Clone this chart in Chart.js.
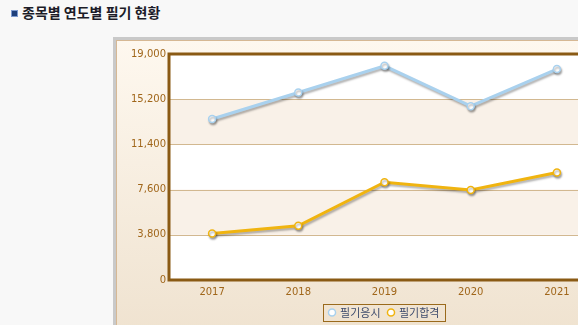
<!DOCTYPE html>
<html>
<head>
<meta charset="utf-8">
<script src="https://cdn.jsdelivr.net/npm/chart.js@4"></script>
<style>
  html, body { margin: 0; padding: 0; width: 578px; height: 325px; overflow: hidden; background: #f8f8f8; }
  .title { position: absolute; left: 22px; top: 2px; font: bold 14px "Noto Sans CJK KR", sans-serif; color: #1c1c28; }
  .icon { position: absolute; left: 11px; top: 10px; width: 5px; height: 5px; background: #1d3f7a; border: 1px solid #7c9ad0; }
  .outer { position: absolute; left: 113px; top: 37px; width: 620px; height: 300px; background: #c9c9c9; }
  .box { position: absolute; left: 116px; top: 40px; width: 616px; height: 300px; border: 1px solid #d6b894;
         background: linear-gradient(#fef8ef, #efe2cf); }
  .wrap { position: absolute; left: 117px; top: 41px; width: 535px; height: 284px; }
</style>
</head>
<body>
<div class="icon"></div>
<div class="title">종목별 연도별 필기 현황</div>
<div class="outer"></div>
<div class="box"></div>
<div class="wrap"><canvas id="chart"></canvas></div>
<script>
const years    = ['2017', '2018', '2019', '2020', '2021'];
const applied  = [13540, 15760, 18010, 14610, 17730];   // 필기응시
const passed   = [3910, 4560, 8220, 7570, 9040];        // 필기합격
const yTicks   = [0, 3800, 7600, 11400, 15200, 19000];

const tickC = '#a0661a', gridC = '#d2b890', bandC = '#f9f1e8', frameC = '#8a5a14';

const bands = {
  id: 'bands',
  afterLayout(chart) {
    // legend centred under the plot, a bit lower
    const lg = chart.legend;
    lg.left += 26; lg.right += 26;
    lg.top += 3; lg.bottom += 3;
  },
  beforeDatasetsDraw(chart) {
    const { ctx, chartArea: a, scales: { y } } = chart;
    ctx.save();
    ctx.fillStyle = '#ffffff';
    ctx.fillRect(a.left, a.top, a.right - a.left, a.bottom - a.top);
    for (let i = 0; i < yTicks.length - 1; i++) {
      const y0 = y.getPixelForValue(yTicks[i]), y1 = y.getPixelForValue(yTicks[i + 1]);
      if (i % 2 === 1) { ctx.fillStyle = bandC; ctx.fillRect(a.left, y1, a.right - a.left, y0 - y1); }
    }
    ctx.strokeStyle = gridC; ctx.lineWidth = 1;
    yTicks.slice(1, -1).forEach(v => {
      const py = Math.round(y.getPixelForValue(v)) + 0.5;
      ctx.beginPath(); ctx.moveTo(a.left, py); ctx.lineTo(a.right, py); ctx.stroke();
    });
    ctx.strokeStyle = frameC; ctx.lineWidth = 3;
    ctx.beginPath();
    ctx.moveTo(a.right + 5, a.top); ctx.lineTo(a.left, a.top); ctx.lineTo(a.left, a.bottom); ctx.lineTo(a.right + 5, a.bottom);
    ctx.stroke();
    ctx.restore();
  },
  beforeDatasetDraw(chart) {
    const ctx = chart.ctx;
    ctx.save();
    ctx.shadowColor = 'rgba(0,0,0,0.3)';
    ctx.shadowBlur = 2; ctx.shadowOffsetX = 1; ctx.shadowOffsetY = 2;
  },
  afterDatasetDraw(chart) { chart.ctx.restore(); },
  afterDraw(chart) {
    const boxes = chart.legend.legendHitBoxes;
    if (!boxes || !boxes.length) return;
    const ctx = chart.ctx;
    let l = Infinity, r = -Infinity, t = Infinity, b = -Infinity;
    boxes.forEach(h => { l = Math.min(l, h.left); r = Math.max(r, h.left + h.width); t = Math.min(t, h.top); b = Math.max(b, h.top + h.height); });
    ctx.save();
    ctx.strokeStyle = '#9a6a1c'; ctx.lineWidth = 1;
    ctx.strokeRect(Math.round(l - 7) + 0.5, Math.round(t - 3) + 0.5, Math.round(r - l + 12), Math.round(b - t + 6));
    ctx.restore();
  }
};

new Chart(document.getElementById('chart'), {
  type: 'line',
  data: {
    labels: years,
    datasets: [
      { label: '필기응시', data: applied, borderColor: '#a9d1ee', backgroundColor: '#ffffff',
        pointBackgroundColor: '#ffffff', pointBorderColor: '#a9d1ee', borderWidth: 3,
        pointRadius: 3.5, pointBorderWidth: 1.5, tension: 0 },
      { label: '필기합격', data: passed, borderColor: '#f0b410', backgroundColor: '#ffffff',
        pointBackgroundColor: '#ffffff', pointBorderColor: '#f0b410', borderWidth: 3,
        pointRadius: 3.5, pointBorderWidth: 1.5, tension: 0 }
    ]
  },
  options: {
    responsive: true, maintainAspectRatio: false, animation: false,
    layout: { padding: { top: 13, left: 0, right: 52, bottom: 0 } },
    plugins: {
      tooltip: { enabled: false },
      legend: {
        position: 'bottom',
        labels: { usePointStyle: true, pointStyle: 'circle', boxWidth: 5, boxHeight: 5, padding: 8,
                  color: '#3f4d6e', font: { size: 11, family: 'Noto Sans CJK KR' } }
      }
    },
    scales: {
      x: {
        offset: true,
        grid: { display: false, drawTicks: false },
        border: { display: false },
        afterFit(s) { s.height = 16; },
        ticks: { color: tickC, padding: 6, font: { size: 10, family: 'DejaVu Sans' } }
      },
      y: {
        min: 0, max: 19000,
        afterBuildTicks(s) { s.ticks = yTicks.map(v => ({ value: v })); },
        afterFit(s) { s.width = 52; },
        grid: { display: false, drawTicks: false },
        border: { display: false },
        ticks: { color: tickC, padding: 3, font: { size: 10, family: 'DejaVu Sans' },
                 callback: v => v.toLocaleString('en-US') }
      }
    }
  },
  plugins: [bands]
});
</script>
</body>
</html>
